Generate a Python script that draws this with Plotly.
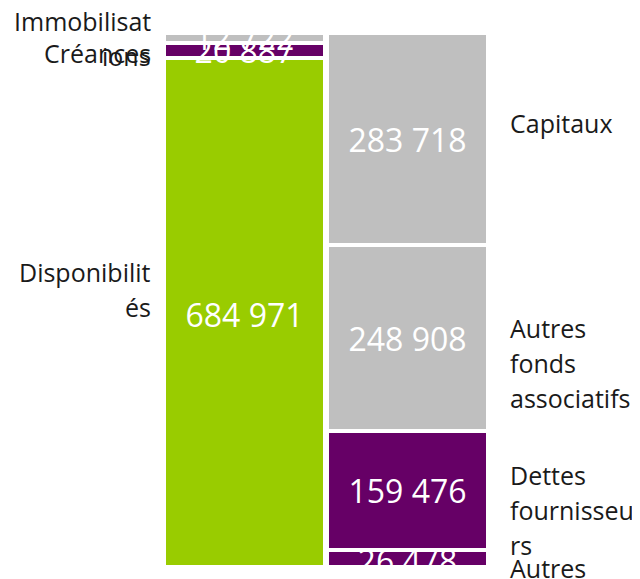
import plotly.graph_objects as go

categories = ["Actif", "Passif"]

# series (stack order from bottom to top)
left_names = ["Disponibilités", "Créances", "Immobilisations"]
left_values = [684971, 20887, 12722]
left_colors = ["#99CC00", "#660066", "#BFBFBF"]
left_label_lines = [["Disponibilit", "és"], ["Créances"], ["Immobilisat", "ions"]]
left_label_shift = [25, -3, -1]

right_names = ["Autres", "Dettes fournisseurs", "Autres fonds associatifs", "Capitaux"]
right_values = [26478, 159476, 248908, 283718]
right_colors = ["#660066", "#660066", "#BFBFBF", "#BFBFBF"]
right_label_lines = [["Autres"], ["Dettes", "fournisseu", "rs"], ["Autres", "fonds", "associatifs"], ["Capitaux"]]
right_label_shift = [-8, -19, -25, 16]

FONT = "Open Sans"
fig = go.Figure()

def add_stack(cat, names, values, colors):
    for n, v, c in zip(names, values, colors):
        fig.add_trace(go.Bar(
            x=[cat], y=[v], name=n,
            marker=dict(color=c, line=dict(color="white", width=4)),
            texttemplate="%{y:,.0f}", textposition="inside",
            insidetextanchor="middle", textangle=0,
            textfont=dict(color="white", size=32, family=FONT),
            cliponaxis=True, hoverinfo="name+y",
        ))

add_stack(categories[0], left_names, left_values, left_colors)
add_stack(categories[1], right_names, right_values, right_colors)

def add_labels(cat, values, lines_list, shifts, side):
    base = 0
    for v, lines, sh in zip(values, lines_list, shifts):
        mid = base + v / 2
        base += v
        n = len(lines)
        for i, line in enumerate(lines):
            off = ((n - 1) / 2 - i) * 35
            fig.add_annotation(
                x=cat, y=mid, xref="x", yref="y", text=line, showarrow=False,
                xanchor="right" if side == "left" else "left",
                xshift=-92 if side == "left" else 100,
                yshift=sh + off,
                font=dict(size=25, color="#1a1a1a", family=FONT),
            )

add_labels(categories[0], left_values, left_label_lines, left_label_shift, "left")
add_labels(categories[1], right_values, right_label_lines, right_label_shift, "right")

total = sum(right_values)
fig.update_layout(
    width=640, height=579,
    barmode="stack", bargap=0.012,
    showlegend=False,
    separators=", ",
    plot_bgcolor="white", paper_bgcolor="white",
    margin=dict(l=155, r=159, t=25, b=22),
    uniformtext=dict(minsize=32, mode="show"),
    xaxis=dict(visible=False, type="category", categoryorder="array",
               categoryarray=categories, range=[-0.5, 1.5]),
    yaxis=dict(visible=False, range=[6700, total]),
)

fig.write_html("out.html")
